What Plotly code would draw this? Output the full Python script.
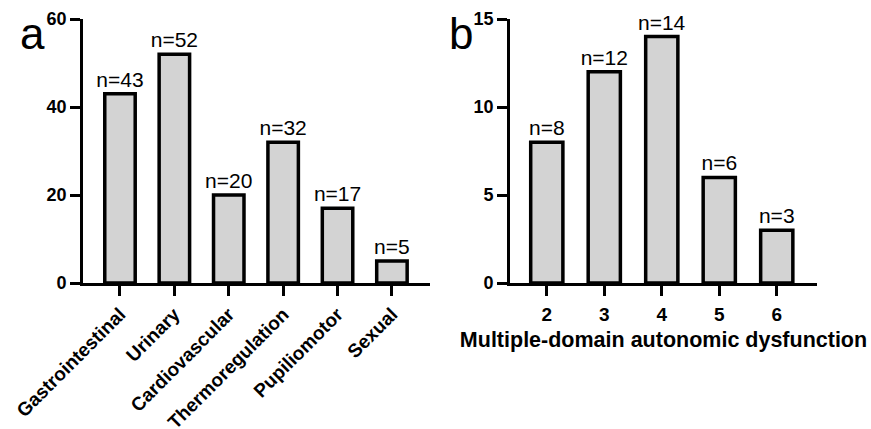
import plotly.graph_objects as go

domains_a = ["Gastrointestinal", "Urinary", "Cardiovascular", "Thermoregulation", "Pupiliomotor", "Sexual"]
counts_a = [43, 52, 20, 32, 17, 5]

num_domains_b = [2, 3, 4, 5, 6]
counts_b = [8, 12, 14, 6, 3]

FONT = "Liberation Sans, Arial, sans-serif"
FILL = "#d3d3d3"
W, H = 871, 429

fig = go.Figure()
fig.add_trace(go.Bar(
    x=domains_a, y=counts_a, xaxis="x", yaxis="y",
    marker=dict(color=FILL, line=dict(color="black", width=3.5)),
    width=0.56,
    texttemplate="n=%{y}", textposition="outside", constraintext="none",
    textfont=dict(family=FONT, size=21, color="black"),
    cliponaxis=False, showlegend=False,
))
fig.add_trace(go.Bar(
    x=num_domains_b, y=counts_b, xaxis="x2", yaxis="y2",
    marker=dict(color=FILL, line=dict(color="black", width=3.5)),
    width=0.56,
    texttemplate="n=%{y}", textposition="outside", constraintext="none",
    textfont=dict(family=FONT, size=21, color="black"),
    cliponaxis=False, showlegend=False,
))

axis_common = dict(showline=True, linecolor="black", linewidth=2.7, showgrid=False,
                   zeroline=False, ticks="outside", ticklen=10, tickwidth=2.7,
                   tickcolor="black", automargin=False)

fig.update_layout(
    width=W, height=H,
    margin=dict(l=0, r=0, t=0, b=0),
    paper_bgcolor="white", plot_bgcolor="white",
    font=dict(family=FONT, color="black"),
    xaxis=dict(domain=[83 / W, 430 / W], anchor="y", type="category",
               range=[-0.68, 5.70], tickangle=-45,
               tickfont=dict(family=FONT, size=19, weight="bold"), **axis_common),
    yaxis=dict(domain=[1 - 283 / H, 1 - 19 / H], anchor="x", range=[0, 60],
               tickvals=[0, 20, 40, 60],
               tickfont=dict(family=FONT, size=18, weight="bold"), **axis_common),
    xaxis2=dict(domain=[510 / W, 817 / W], anchor="y2", range=[1.36, 6.70],
                tickvals=num_domains_b, ticklabelstandoff=2,
                tickfont=dict(family=FONT, size=19, weight="bold"),
                title=dict(text="Multiple-domain autonomic dysfunction",
                           font=dict(family=FONT, size=21.5, weight="bold"), standoff=9),
                **axis_common),
    yaxis2=dict(domain=[1 - 283 / H, 1 - 19 / H], anchor="x2", range=[0, 15],
                tickvals=[0, 5, 10, 15],
                tickfont=dict(family=FONT, size=18, weight="bold"), **axis_common),
)

for letter, px in [("a", 18), ("b", 447)]:
    fig.add_annotation(text=letter, x=px / W, y=1 - 50 / H, xref="paper", yref="paper",
                       xanchor="left", yanchor="bottom", showarrow=False,
                       font=dict(family=FONT, size=44, color="black"), yshift=-10)

fig.write_html("out.html", config={"displayModeBar": False},
               post_script="document.body.style.margin='0';document.body.style.overflow='hidden';")
